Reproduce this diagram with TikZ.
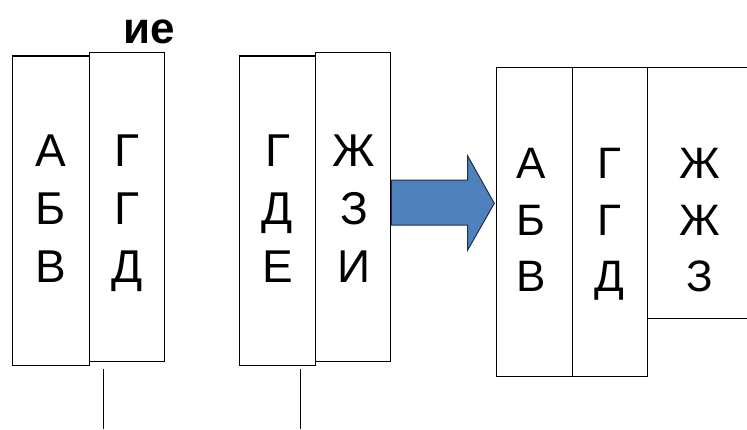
\documentclass[tikz,border=0pt]{standalone}
\usepackage{fontspec}
\setmainfont{Liberation Sans}
\begin{document}
\begin{tikzpicture}[x=1pt,y=-1pt,
  box/.style={draw=black, line width=1.4pt, inner sep=0pt},
  letter/.style={font=\fontsize{46}{46}\selectfont, inner sep=0pt, anchor=base},
  letterR/.style={font=\fontsize{44}{44}\selectfont, inner sep=0pt, anchor=base},
  title/.style={font=\fontsize{44}{44}\selectfont\bfseries, inner sep=0pt, anchor=base},
  blockarrow/.style={fill=arrowblue, draw=arrowline, line width=1pt, line join=miter},
  stem/.style={draw=black, line width=1pt}]
\definecolor{arrowblue}{HTML}{4F81BD}
\definecolor{arrowline}{HTML}{1F2F4A}
\useasboundingbox (0,0) rectangle (747,429);
\clip (0,0) rectangle (747,429);

% heading fragment
\node[title] (hd) at (149,43) {ие};

% left pair of columns
\node[box, minimum width=76.6pt, minimum height=309.7pt] (b1) at (51,210.85) {};
\node[box, minimum width=75pt, minimum height=309.4pt] (b2) at (126.8,207) {};
% middle pair of columns
\node[box, minimum width=76.4pt, minimum height=309.7pt] (b3) at (277.5,210.85) {};
\node[box, minimum width=75pt, minimum height=309.4pt] (b4) at (353.2,207) {};
% result: three columns
\node[box, minimum width=75.6pt, minimum height=309.4pt] (b5) at (534.5,222) {};
\node[box, minimum width=75.4pt, minimum height=309.4pt] (b6) at (610,222) {};
\node[box, minimum width=120pt, minimum height=251.4pt] (b7) at (707.7,193) {};

% column contents
\foreach \t [count=\i] in {А,Б,В} \node[letter] (c1-\i) at (51,108+58*\i) {\t};
\foreach \t [count=\i] in {Г,Г,Д} \node[letter] (c2-\i) at (126.8,108+58*\i) {\t};
\foreach \t [count=\i] in {Г,Д,Е} \node[letter] (c3-\i) at (277.5,108+58*\i) {\t};
\foreach \t [count=\i] in {Ж,З,И} \node[letter] (c4-\i) at (354,108+58*\i) {\t};
\foreach \t [count=\i] in {А,Б,В} \node[letterR] (c5-\i) at (531,121.6+56.7*\i) {\t};
\foreach \t [count=\i] in {Г,Г,Д} \node[letterR] (c6-\i) at (609,121.6+56.7*\i) {\t};
\foreach \t [count=\i] in {Ж,Ж,З} \node[letterR] (c7-\i) at (700,121.6+56.7*\i) {\t};

% block arrow from the middle pair to the result
\coordinate (ar0) at (b4.east |- 0,180);
\draw[blockarrow] (ar0) -- (467.7,180) -- (467.7,156) -- (494.3,203.3)
  -- (467.7,250) -- (467.7,225) -- (b4.east |- 0,225) -- cycle;

% stems below the columns
\coordinate (s1) at (103.3,369.3);
\coordinate (s1e) at (103.3,429);
\coordinate (s2) at (300,369.3);
\coordinate (s2e) at (300,429);
\draw[stem] (s1) -- (s1e);
\draw[stem] (s2) -- (s2e);
\end{tikzpicture}
\end{document}
